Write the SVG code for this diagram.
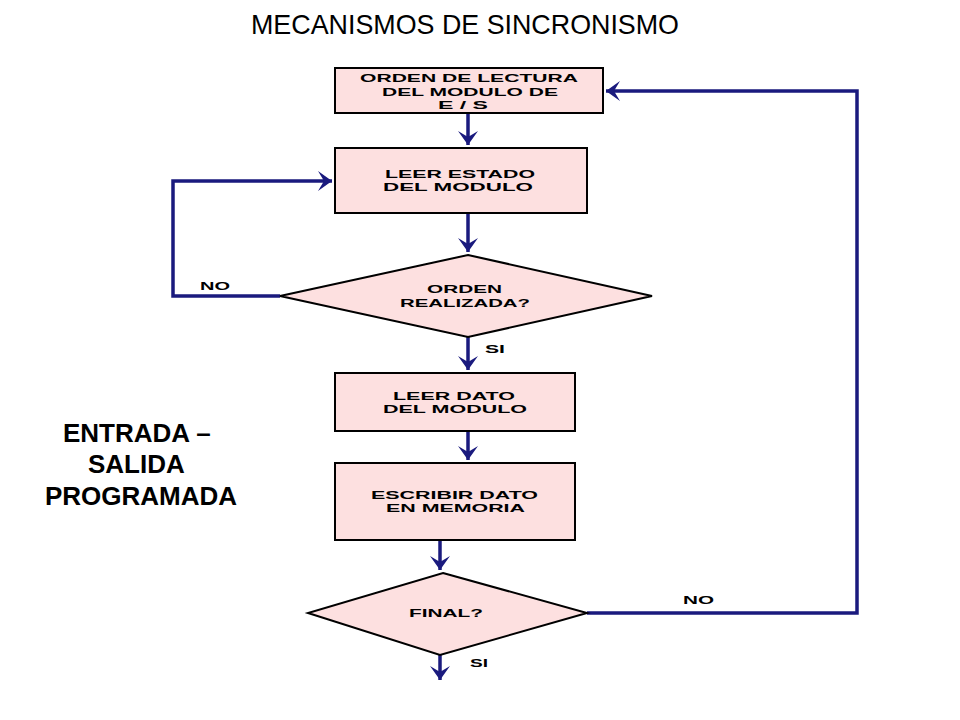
<svg xmlns="http://www.w3.org/2000/svg" width="960" height="720" viewBox="0 0 960 720">
<style>
.shape{fill:#fde0e0;stroke:#000;stroke-width:2}
.lbl{font-family:"Liberation Sans",Arial,sans-serif;font-weight:bold;font-size:10.5px;fill:#000}
.side{font-family:"Liberation Sans",Arial,sans-serif;font-weight:bold;font-size:26px;fill:#000}
.title{font-family:"Liberation Sans",Arial,sans-serif;font-size:28px;fill:#000}
.conn{fill:none;stroke:#1a1a7e;stroke-width:3.5;stroke-linejoin:miter}
</style>
<defs>
<marker id="ah" viewBox="-15 -12 17 24" markerWidth="17" markerHeight="24" refX="0" refY="0" markerUnits="userSpaceOnUse" orient="auto">
<path d="M0,0 L-14,-10 L-8,0 L-14,10 Z" fill="#1a1a7e"/>
</marker>
</defs>
<rect width="960" height="720" fill="#fff"/>
<text class="title" x="251" y="34" textLength="428" lengthAdjust="spacingAndGlyphs">MECANISMOS DE SINCRONISMO</text>
<g id="side-label">
<text class="side" x="63" y="442">ENTRADA –</text>
<text class="side" x="88" y="473">SALIDA</text>
<text class="side" x="45" y="505">PROGRAMADA</text>
</g>
<g id="connectors">
<path class="conn" d="M468,113 V145" marker-end="url(#ah)"/>
<path class="conn" d="M468,213 V252" marker-end="url(#ah)"/>
<path class="conn" d="M280,296 H173 V181 H332" marker-end="url(#ah)"/>
<path class="conn" d="M468,337 V370" marker-end="url(#ah)"/>
<path class="conn" d="M468,431 V460" marker-end="url(#ah)"/>
<path class="conn" d="M440,540 V570" marker-end="url(#ah)"/>
<path class="conn" d="M440,655 V680" marker-end="url(#ah)"/>
<path class="conn" d="M587,613 H857 V91 H606" marker-end="url(#ah)"/>
<text class="lbl" x="200" y="290" textLength="30" lengthAdjust="spacingAndGlyphs">NO</text>
<text class="lbl" x="485" y="353" textLength="20" lengthAdjust="spacingAndGlyphs">SI</text>
<text class="lbl" x="683" y="604" textLength="31" lengthAdjust="spacingAndGlyphs">NO</text>
<text class="lbl" x="470" y="667" textLength="18" lengthAdjust="spacingAndGlyphs">SI</text>
</g>
<g id="n1">
<rect class="shape" x="335" y="68" width="268" height="45"/>
<text class="lbl" x="360" y="82" textLength="218" lengthAdjust="spacingAndGlyphs">ORDEN DE LECTURA</text>
<text class="lbl" x="382" y="96" textLength="176" lengthAdjust="spacingAndGlyphs">DEL MODULO DE</text>
<text class="lbl" x="438" y="109" textLength="50" lengthAdjust="spacingAndGlyphs">E / S</text>
</g>
<g id="n2">
<rect class="shape" x="335" y="148" width="252" height="65"/>
<text class="lbl" x="385" y="178" textLength="150" lengthAdjust="spacingAndGlyphs">LEER ESTADO</text>
<text class="lbl" x="383" y="191" textLength="150" lengthAdjust="spacingAndGlyphs">DEL MODULO</text>
</g>
<g id="n3">
<polygon class="shape" points="468,255 652,296 468,337 280,296"/>
<text class="lbl" x="427" y="293" textLength="75" lengthAdjust="spacingAndGlyphs">ORDEN</text>
<text class="lbl" x="400" y="307" textLength="130" lengthAdjust="spacingAndGlyphs">REALIZADA?</text>
</g>
<g id="n4">
<rect class="shape" x="335" y="373" width="240" height="58"/>
<text class="lbl" x="393" y="400" textLength="122" lengthAdjust="spacingAndGlyphs">LEER DATO</text>
<text class="lbl" x="383" y="413" textLength="144" lengthAdjust="spacingAndGlyphs">DEL MODULO</text>
</g>
<g id="n5">
<rect class="shape" x="335" y="463" width="240" height="77"/>
<text class="lbl" x="371" y="499" textLength="167" lengthAdjust="spacingAndGlyphs">ESCRIBIR DATO</text>
<text class="lbl" x="386" y="512" textLength="139" lengthAdjust="spacingAndGlyphs">EN MEMORIA</text>
</g>
<g id="n6">
<polygon class="shape" points="443,573 587,613 440,655 308,613"/>
<text class="lbl" x="409" y="617" textLength="74" lengthAdjust="spacingAndGlyphs">FINAL?</text>
</g>
</svg>
